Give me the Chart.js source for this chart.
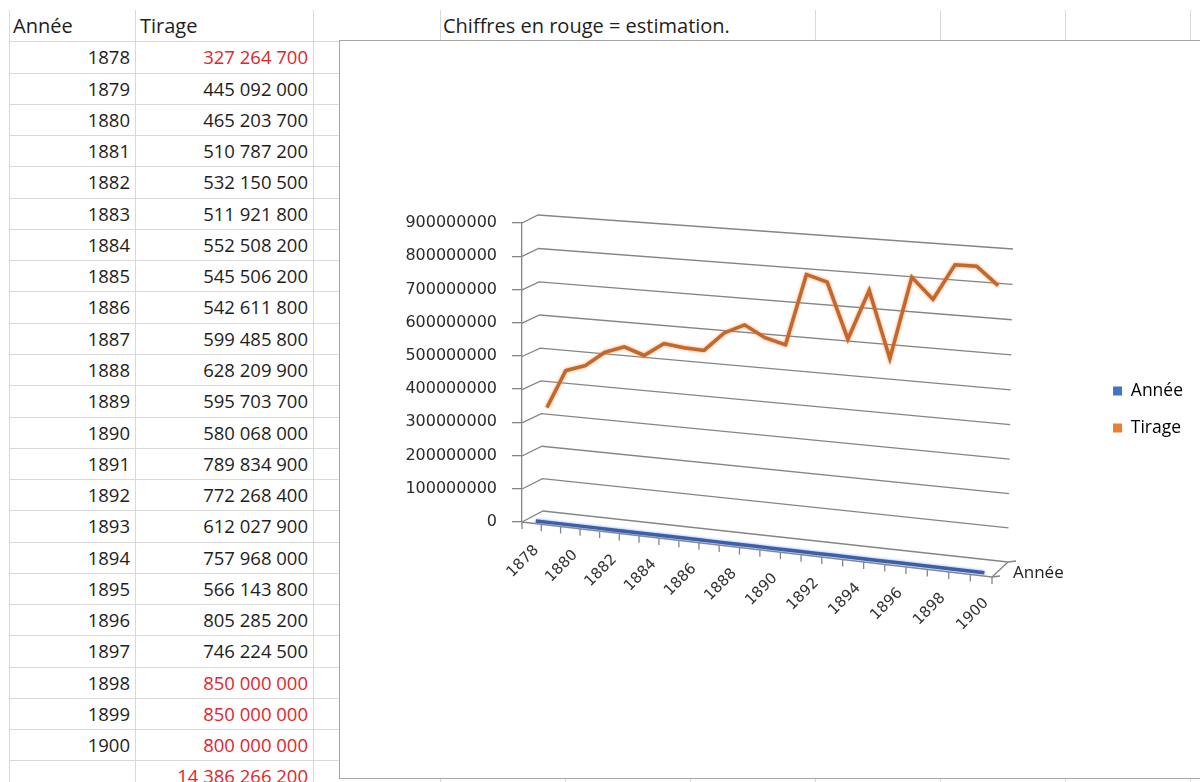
<!DOCTYPE html>
<html lang="fr">
<head>
<meta charset="utf-8">
<title>Tirage 1878–1900</title>
<script src="https://cdn.jsdelivr.net/npm/chart.js@4.4.1/dist/chart.umd.min.js"></script>
<style>
  html, body { margin: 0; padding: 0; background: #fff; width: 1200px; height: 782px; overflow: hidden; }
  #sheet { position: absolute; left: 0; top: 0; width: 1200px; height: 782px; font-family: "Open Sans", sans-serif; color: #1e1e1e; }
  .vl { position: absolute; width: 1px; background: #d9d9d9; }
  .hl { position: absolute; height: 1px; background: #d9d9d9; }
  .cell { position: absolute; white-space: nowrap; }
  .word { font-size: 20px; }
  .num { font-size: 18.5px; text-align: right; }
  .est { color: #e3262b; }
  #box { position: absolute; left: 339px; top: 40px; width: 900px; height: 737px; border: 1px solid #a6a6a6; background: #fff; }
  #box canvas { position: absolute; left: 0; top: 0; }
</style>
</head>
<body>
<div id="sheet"></div>
<div id="box"><canvas id="chart" width="860" height="737"></canvas></div>
<script>
// ---- data ----
const years = [1878, 1879, 1880, 1881, 1882, 1883, 1884, 1885, 1886, 1887, 1888, 1889,
               1890, 1891, 1892, 1893, 1894, 1895, 1896, 1897, 1898, 1899, 1900];
const tirage = [327264700, 445092000, 465203700, 510787200, 532150500, 511921800,
                552508200, 545506200, 542611800, 599485800, 628209900, 595703700,
                580068000, 789834900, 772268400, 612027900, 757968000, 566143800,
                805285200, 746224500, 850000000, 850000000, 800000000];
const estimatedYears = [1878, 1898, 1899, 1900];
const yTickValues = [0, 100000000, 200000000, 300000000, 400000000, 500000000,
                     600000000, 700000000, 800000000, 900000000];
const labelledYears = years.filter(y => (y - years[0]) % 2 === 0);
const headers = ['Année', 'Tirage'];
const note = 'Chiffres en rouge = estimation.';
const depthAxisTitle = 'Année';

// ---- spreadsheet grid ----
const colX = [9, 135, 313, 440, 565, 690, 815, 940, 1065, 1190];
const rowTop = 10, rowH = 31.27, rowCount = 25;
const sheet = document.getElementById('sheet');

function addDiv(cls, css, text) {
  const d = document.createElement('div');
  d.className = cls;
  Object.assign(d.style, css);
  if (text !== undefined) d.textContent = text;
  sheet.appendChild(d);
  return d;
}
function groupDigits(n) {
  return String(n).replace(/\B(?=(\d{3})+(?!\d))/g, ' ');
}

for (let k = 1; k <= rowCount; k++) {
  addDiv('hl', { left: colX[0] + 'px', top: (rowTop + k * rowH) + 'px', width: (1200 - colX[0]) + 'px' });
}
colX.forEach(x => {
  // the note overflows over the next two columns in the header row
  const start = (x === 565 || x === 690) ? rowTop + rowH : rowTop;
  addDiv('vl', { left: x + 'px', top: start + 'px', height: (782 - start) + 'px' });
});

function rowCss(r) {
  return { top: (rowTop + r * rowH) + 'px', height: rowH + 'px', lineHeight: rowH + 'px' };
}
addDiv('cell word', Object.assign({ left: '13px' }, rowCss(0)), headers[0]);
addDiv('cell word', Object.assign({ left: '140px' }, rowCss(0)), headers[1]);
addDiv('cell word', Object.assign({ left: '443px' }, rowCss(0)), note);

years.forEach((y, i) => {
  const est = estimatedYears.includes(y);
  addDiv('cell num', Object.assign({ left: '20px', width: '110px' }, rowCss(i + 1)), String(y));
  addDiv('cell num' + (est ? ' est' : ''), Object.assign({ left: '140px', width: '168px' }, rowCss(i + 1)), groupDigits(tirage[i]));
});
const total = tirage.reduce((s, v) => s + v, 0);
addDiv('cell num est', Object.assign({ left: '140px', width: '168px' }, rowCss(years.length + 1)), groupDigits(total));

// ---- 3D frame of the chart (canvas pixels) ----
// front plane: left edge is the value axis; back plane carries the gridlines
const FRONT_RIGHT = { bottom: { x: 652, y: 536 }, top: { x: 656, y: 218 } };
const BACK = { bl: { x: 203, y: 470 }, br: { x: 668, y: 521 }, tr: { x: 673, y: 208 }, tl: { x: 198, y: 174 } };

function quadMap(p0, p1, p2, p3) {
  // unit square (0,0),(1,0),(1,1),(0,1) -> p0,p1,p2,p3 (projective)
  const dx1 = p1.x - p2.x, dx2 = p3.x - p2.x, dx3 = p0.x - p1.x + p2.x - p3.x;
  const dy1 = p1.y - p2.y, dy2 = p3.y - p2.y, dy3 = p0.y - p1.y + p2.y - p3.y;
  let a, b, c, d, e, f, g, h;
  if (Math.abs(dx3) < 1e-9 && Math.abs(dy3) < 1e-9) {
    a = p1.x - p0.x; b = p3.x - p0.x; c = p0.x;
    d = p1.y - p0.y; e = p3.y - p0.y; f = p0.y; g = 0; h = 0;
  } else {
    const den = dx1 * dy2 - dx2 * dy1;
    g = (dx3 * dy2 - dx2 * dy3) / den;
    h = (dx1 * dy3 - dx3 * dy1) / den;
    a = p1.x - p0.x + g * p1.x; b = p3.x - p0.x + h * p3.x; c = p0.x;
    d = p1.y - p0.y + g * p1.y; e = p3.y - p0.y + h * p3.y; f = p0.y;
  }
  return (u, v) => {
    const w = g * u + h * v + 1;
    return { x: (a * u + b * v + c) / w, y: (d * u + e * v + f) / w };
  };
}
const lerp = (p, q, t) => ({ x: p.x + (q.x - p.x) * t, y: p.y + (q.y - p.y) * t });

function planeAt(chart, depth) {
  const ys = chart.scales.y, left = chart.chartArea.left;
  const fbl = { x: left, y: ys.bottom }, ftl = { x: left, y: ys.top };
  return quadMap(
    lerp(fbl, BACK.bl, depth),
    lerp(FRONT_RIGHT.bottom, BACK.br, depth),
    lerp(FRONT_RIGHT.top, BACK.tr, depth),
    lerp(ftl, BACK.tl, depth)
  );
}
function normU(chart, i) {
  const xs = chart.scales.x;
  return (xs.getPixelForValue(i) - xs.left) / (xs.right - xs.left);
}
function normT(chart, v) {
  const ys = chart.scales.y;
  return (ys.bottom - ys.getPixelForValue(v)) / (ys.bottom - ys.top);
}

const perspective = {
  id: 'perspective',
  afterDatasetsUpdate(chart) {
    chart.data.datasets.forEach((ds, di) => {
      const meta = chart.getDatasetMeta(di);
      const map = planeAt(chart, ds.depth);
      meta.data.forEach((pt, i) => {
        const p = map(normU(chart, i), normT(chart, ds.data[i]));
        pt.x = p.x; pt.y = p.y;
      });
    });
  },
  beforeDatasetsDraw(chart) {
    const ctx = chart.ctx, ys = chart.scales.y;
    const front = planeAt(chart, 0), back = planeAt(chart, 1);
    ctx.save();
    ctx.strokeStyle = '#858585';
    ctx.lineWidth = 1.3;
    ctx.beginPath();
    ys.ticks.forEach(tk => {
      const t = normT(chart, tk.value);
      const a = front(0, t), b = back(0, t), c = back(1, t);
      ctx.moveTo(a.x, a.y); ctx.lineTo(b.x, b.y); ctx.lineTo(c.x, c.y);
    });
    // floor: front edge and right side edge
    const f0 = front(0, 0), f1 = front(1, 0), b1 = back(1, 0);
    ctx.moveTo(f0.x, f0.y); ctx.lineTo(f1.x, f1.y); ctx.lineTo(b1.x, b1.y);
    // category tick marks on the front edge
    const n = chart.data.labels.length;
    for (let k = 0; k <= n; k++) {
      const p = front(k / n, 0);
      ctx.moveTo(p.x, p.y); ctx.lineTo(p.x, p.y + 7);
    }
    // depth axis ticks
    [f1, b1].forEach(p => { ctx.moveTo(p.x, p.y); ctx.lineTo(p.x + 8, p.y - 1); });
    ctx.stroke();

    // category labels, rotated
    ctx.fillStyle = '#333';
    ctx.font = '15px "DejaVu Sans"';
    ctx.textAlign = 'right';
    ctx.textBaseline = 'middle';
    chart.data.labels.forEach((lab, i) => {
      if (!labelledYears.includes(lab)) return;
      const p = front(normU(chart, i), 0);
      ctx.save();
      ctx.translate(p.x + 5, p.y + 25);
      ctx.rotate(-Math.PI / 4);
      ctx.fillText(String(lab), 0, 0);
      ctx.restore();
    });
    // depth axis title
    ctx.font = '17px "Open Sans"';
    ctx.textAlign = 'left';
    ctx.fillStyle = '#222';
    ctx.fillText(depthAxisTitle, b1.x + 5, b1.y + 11);
    ctx.restore();
  },
  beforeDatasetDraw(chart, args) {
    const ds = chart.data.datasets[args.index];
    chart.ctx.save();
    chart.ctx.shadowColor = ds.glow;
    chart.ctx.shadowBlur = 3;
  },
  afterDatasetDraw(chart) {
    chart.ctx.restore();
  }
};

new Chart(document.getElementById('chart'), {
  type: 'line',
  data: {
    labels: years,
    datasets: [
      { label: headers[0], data: years, depth: 0.2, borderColor: '#3d5fa9', legendColor: '#4472c4',
        glow: 'rgba(120,155,225,0.9)', borderWidth: 3.5, pointRadius: 0, clip: false },
      { label: headers[1], data: tirage, depth: 0.8, borderColor: '#c3672c', legendColor: '#ed7d31',
        glow: 'rgba(240,140,70,0.9)', borderWidth: 3.5, pointRadius: 0, clip: false }
    ]
  },
  options: {
    responsive: false,
    devicePixelRatio: 1,
    animation: false,
    events: [],
    layout: { padding: { right: 7 } },
    plugins: {
      tooltip: { enabled: false },
      legend: {
        position: 'right',
        align: 'center',
        labels: {
          boxWidth: 9, boxHeight: 9, padding: 19.5, color: '#222',
          font: { family: 'Open Sans', size: 17.5 },
          generateLabels: chart => chart.data.datasets.map((ds, i) => ({
            text: ds.label, fillStyle: ds.legendColor, strokeStyle: ds.legendColor,
            lineWidth: 0, hidden: false, datasetIndex: i
          }))
        }
      }
    },
    scales: {
      x: {
        type: 'category', position: 'bottom', offset: true,
        ticks: { display: false }, grid: { display: false }, border: { display: false },
        afterFit: s => { s.height = 256; }
      },
      xTop: {
        type: 'category', position: 'top', offset: true,
        ticks: { display: false }, grid: { display: false }, border: { display: false },
        afterFit: s => { s.height = 182; }
      },
      y: {
        type: 'linear', position: 'left', min: 0, max: 900000000,
        afterBuildTicks: s => { s.ticks = yTickValues.map(v => ({ value: v })); },
        afterFit: s => { s.width = 182; },
        ticks: {
          padding: 15, color: '#2b2b2b',
          font: { family: 'DejaVu Sans', size: 16 },
          callback: v => String(v)
        },
        grid: { drawOnChartArea: false, drawTicks: true, tickLength: 10, color: '#858585', lineWidth: 1.3 },
        border: { display: true, color: '#858585', width: 1.3 }
      }
    }
  },
  plugins: [perspective]
});
</script>
</body>
</html>
